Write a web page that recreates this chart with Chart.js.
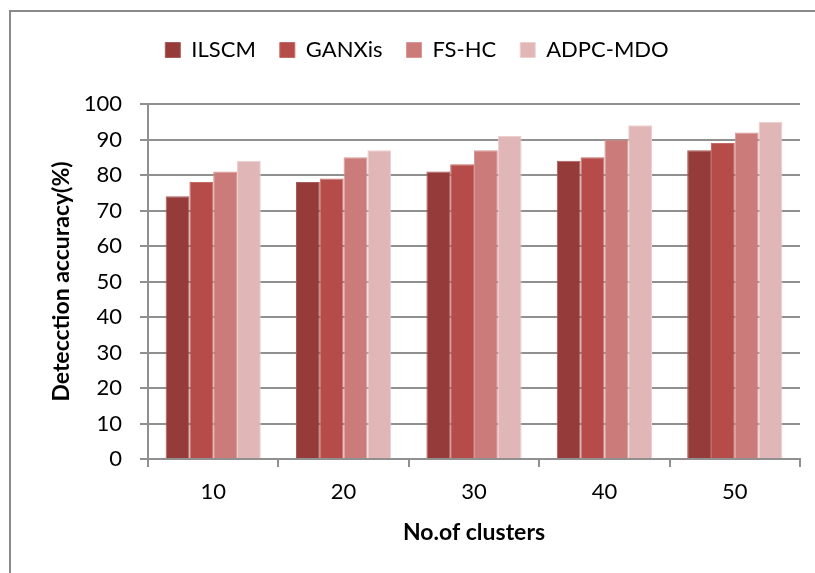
<!DOCTYPE html>
<html>
<head>
<meta charset="utf-8">
<script src="https://cdn.jsdelivr.net/npm/chart.js@4"></script>
<style>
  html, body { margin: 0; padding: 0; background: #fff; }
  #wrap { width: 815px; height: 573px; position: relative; }
</style>
</head>
<body>
<div id="wrap"><canvas id="chart" width="815" height="573"></canvas></div>
<script>
// Cluster counts on the x axis
const clusters = ['10', '20', '30', '40', '50'];

// Detection accuracy (%) per method
const ilscm   = [74, 78, 81, 84, 87];
const ganxis  = [78, 79, 83, 85, 89];
const fshc    = [81, 85, 87, 90, 92];
const adpcMdo = [84, 87, 91, 94, 95];

const seriesNames = ['ILSCM', 'GANXis', 'FS-HC', 'ADPC-MDO'];
const seriesData = [ilscm, ganxis, fshc, adpcMdo];
const fills   = ['#953b39', '#b54c49', '#cb7c7a', '#e0b6b6'];
const edges   = ['#a85a58', '#c46a67', '#d99896', '#ecd0d0'];

const gridGray = '#909090';
const FONT = 'Lato';

// Outer frame around the figure
const framePlugin = {
  id: 'frame',
  beforeDraw(chart) {
    const ctx = chart.ctx;
    ctx.save();
    ctx.fillStyle = '#fff';
    ctx.fillRect(0, 0, chart.width, chart.height);
    ctx.strokeStyle = '#8a8a8a';
    ctx.lineWidth = 2;
    ctx.strokeRect(10, 11, chart.width + 20, chart.height + 20);
    ctx.restore();
  }
};

// Reserve room between the legend row and the plot
const legendSpace = {
  id: 'legendSpace',
  beforeInit(chart) {
    const lg = chart.legend;
    if (!lg || lg._spaced) return;
    const orig = lg.fit;
    lg.fit = function () {
      orig.call(this);
      this.height = 89;
    };
    lg._spaced = true;
  }
};

new Chart(document.getElementById('chart'), {
  type: 'bar',
  data: {
    labels: clusters,
    datasets: seriesNames.map((name, i) => ({
      label: name,
      data: seriesData[i],
      backgroundColor: fills[i],
      borderColor: edges[i],
      borderWidth: 1,
      categoryPercentage: 0.73,
      barPercentage: 1.0
    }))
  },
  options: {
    responsive: false,
    animation: false,
    devicePixelRatio: 1,
    layout: { padding: { left: 34, right: 15, top: 15, bottom: 27 } },
    plugins: {
      tooltip: { enabled: false },
      legend: {
        position: 'top',
        align: 'center',
        labels: {
          boxWidth: 15,
          boxHeight: 15,
          padding: 24,
          color: '#000',
          font: { family: FONT, size: 22 }
        }
      }
    },
    scales: {
      x: {
        offset: true,
        grid: {
          offset: true,
          drawOnChartArea: false,
          drawTicks: true,
          tickLength: 8,
          color: gridGray,
          lineWidth: 2
        },
        border: { color: gridGray, width: 2 },
        ticks: {
          color: '#000',
          padding: 12,
          font: { family: FONT, size: 22 }
        },
        title: {
          display: true,
          text: 'No.of clusters',
          color: '#000',
          padding: { top: 7, bottom: 0 },
          font: { family: FONT, size: 23, weight: 'bold' }
        },
        afterFit(scale) { scale.height = 87; }
      },
      y: {
        min: 0,
        max: 100,
        ticks: {
          stepSize: 10,
          color: '#000',
          padding: 18,
          font: { family: FONT, size: 22 }
        },
        grid: {
          color: gridGray,
          lineWidth: 2,
          tickLength: 8
        },
        border: { color: gridGray, width: 2 },
        title: {
          display: true,
          text: 'Detecction accuracy(%)',
          color: '#000',
          padding: { top: 14, bottom: 0 },
          font: { family: FONT, size: 23, weight: 'bold' }
        },
        afterFit(scale) { scale.width = 114; }
      }
    }
  },
  plugins: [framePlugin, legendSpace]
});
</script>
</body>
</html>
